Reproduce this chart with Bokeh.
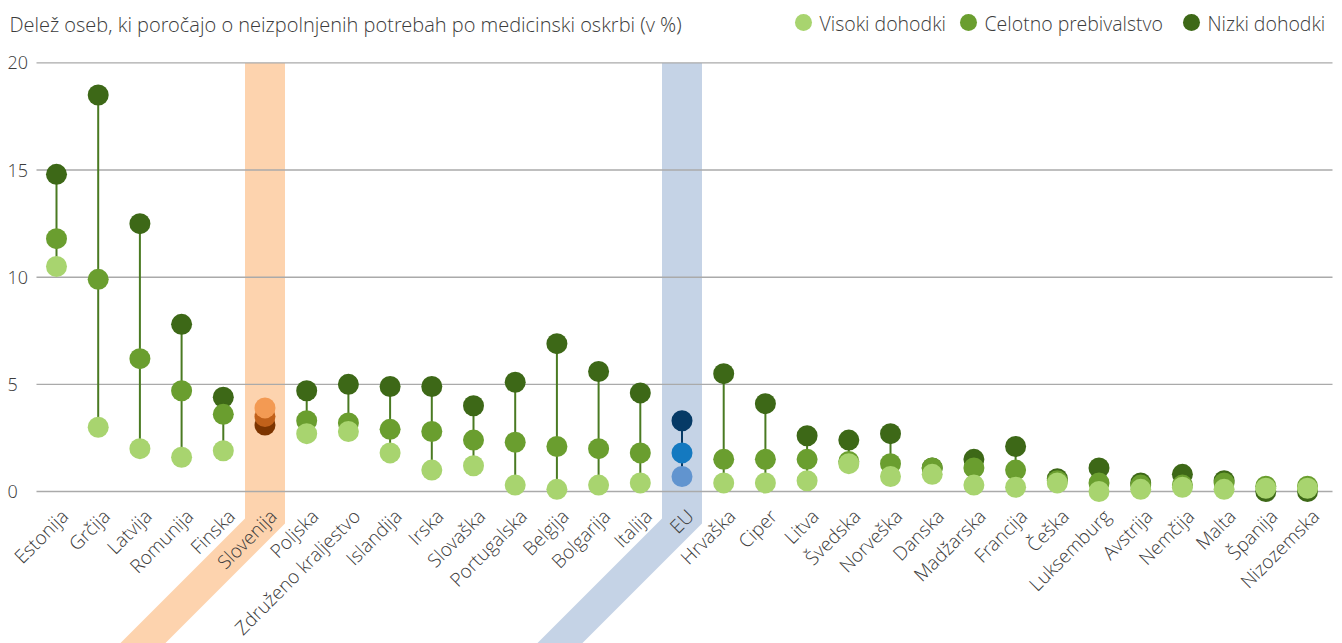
import math
from bokeh.plotting import figure
from bokeh.models import Range1d, ColumnDataSource
from bokeh.core.properties import value
from bokeh.embed import file_html
from bokeh.resources import INLINE

# ---------------- data ----------------
countries = ["Estonija", "Grčija", "Latvija", "Romunija", "Finska", "Slovenija", "Poljska",
             "Združeno kraljestvo", "Islandija", "Irska", "Slovaška", "Portugalska", "Belgija",
             "Bolgarija", "Italija", "EU", "Hrvaška", "Ciper", "Litva", "Švedska", "Norveška",
             "Danska", "Madžarska", "Francija", "Češka", "Luksemburg", "Avstrija", "Nemčija",
             "Malta", "Španija", "Nizozemska"]
nizki = [14.8, 18.5, 12.5, 7.8, 4.4, 3.1, 4.7, 5.0, 4.9, 4.9, 4.0, 5.1, 6.9, 5.6, 4.6,
         3.3, 5.5, 4.1, 2.6, 2.4, 2.7, 1.1, 1.5, 2.1, 0.6, 1.1, 0.4, 0.8, 0.5, 0.0, 0.0]
celotno = [11.8, 9.9, 6.2, 4.7, 3.6, 3.5, 3.3, 3.2, 2.9, 2.8, 2.4, 2.3, 2.1, 2.0, 1.8,
           1.8, 1.5, 1.5, 1.5, 1.4, 1.3, 1.1, 1.1, 1.0, 0.5, 0.4, 0.3, 0.3, 0.4, 0.25, 0.25]
visoki = [10.5, 3.0, 2.0, 1.6, 1.9, 3.9, 2.7, 2.8, 1.8, 1.0, 1.2, 0.3, 0.1, 0.3, 0.4,
          0.7, 0.4, 0.4, 0.5, 1.3, 0.7, 0.8, 0.3, 0.2, 0.4, 0.0, 0.1, 0.2, 0.1, 0.15, 0.15]
y_ticks = [0, 5, 10, 15, 20]
y_tick_labels = ["0", "5", "10", "15", "20"]
series_names = ["Visoki dohodki", "Celotno prebivalstvo", "Nizki dohodki"]
title_text = "Delež oseb, ki poročajo o neizpolnjenih potrebah po medicinski oskrbi (v %)"
highlight_si = "Slovenija"
highlight_eu = "EU"

# ---------------- styles / layout ----------------
W, H = 1342, 643
XS = 41.7      # px per category
YS = 21.43     # px per percentage point
X0 = 56        # canvas x of first category
Y0 = 491       # canvas y of value 0

x_start = -X0 / XS
x_end = x_start + W / XS
y_end = Y0 / YS
y_start = y_end - H / YS


def px(cx):
    return (cx - X0) / XS


def py(cy):
    return (Y0 - cy) / YS


FONT = value("Open Sans Light")
TXT = "#3c3c3c"
C_LIGHT, C_MID, C_DARK = "#a8d46f", "#6a9e2f", "#3d6817"
EU_LIGHT, EU_MID, EU_DARK = "#6194cf", "#1479c0", "#063a66"
SI_LIGHT, SI_MID, SI_DARK = "#f39a53", "#c1611a", "#7d3500"
STEM = "#4a7a22"
BAND_SI = "#fdd3ae"
BAND_EU = "#c5d3e6"

p = figure(width=W, height=H, x_range=Range1d(x_start, x_end), y_range=Range1d(y_start, y_end),
           output_backend="svg", toolbar_location=None, min_border=0,
           x_axis_location=None, y_axis_location=None, outline_line_color=None)
p.grid.visible = False
p.background_fill_color = "white"
p.border_fill_color = "white"

idx = list(range(len(countries)))

# ---------------- highlight bands ----------------
hw = 20 / XS


def band(i, color):
    top = 20
    yl = py(518)
    yr = py(523)
    bottom = 680
    dl = (bottom - 518) / XS
    dr = (bottom - 523) / XS
    xs = [i - hw, i + hw, i + hw, i + hw - dr, i - hw - dl, i - hw]
    ys = [top, top, yr, py(bottom), py(bottom), yl]
    p.patch(xs, ys, fill_color=color, line_color=None)


band(countries.index(highlight_si), BAND_SI)
band(countries.index(highlight_eu), BAND_EU)

# ---------------- gridlines ----------------
p.segment(x0=[px(36)] * len(y_ticks), x1=[px(1332)] * len(y_ticks), y0=y_ticks, y1=y_ticks,
          line_color="#aaaaaa", line_width=1.4)
p.text(x=[px(7)] * len(y_ticks), y=y_ticks, text=y_tick_labels, text_align="left",
       text_baseline="middle", text_font=FONT, text_font_size=value("18px"), text_color=TXT)

# ---------------- stems ----------------
def pick(c, normal, si, eu):
    if c == highlight_si:
        return si
    if c == highlight_eu:
        return eu
    return normal


lo = [min(a, b, c) for a, b, c in zip(nizki, celotno, visoki)]
hi = [max(a, b, c) for a, b, c in zip(nizki, celotno, visoki)]
stem_src = ColumnDataSource(dict(x=idx, lo=lo, hi=hi,
                                 color=[pick(c, STEM, SI_MID, EU_DARK) for c in countries]))
p.segment(x0="x", x1="x", y0="lo", y1="hi", line_color="color", line_width=2, source=stem_src)

# ---------------- points ----------------
for vals, cn, cs, ce in [(nizki, C_DARK, SI_DARK, EU_DARK),
                         (celotno, C_MID, SI_MID, EU_MID),
                         (visoki, C_LIGHT, SI_LIGHT, EU_LIGHT)]:
    src = ColumnDataSource(dict(x=idx, y=vals, color=[pick(c, cn, cs, ce) for c in countries]))
    p.scatter(x="x", y="y", size=21, fill_color="color", line_color=None, source=src)

# ---------------- category labels ----------------
p.text(x=[i - 1 / XS for i in idx], y=[py(503)] * len(idx), text=countries,
       angle=math.pi / 4, text_align="right", text_baseline="top",
       text_font=FONT, text_font_size=value("19px"), text_color=TXT)

# ---------------- title ----------------
p.text(x=[px(9)], y=[py(24)], text=[title_text], text_align="left", text_baseline="middle",
       text_font=FONT, text_font_size=value("20px"), text_color=TXT)

# ---------------- legend ----------------
leg_x = [803, 968, 1191]
leg_colors = [C_LIGHT, C_MID, C_DARK]
p.scatter(x=[px(v) for v in leg_x], y=[py(22)] * 3, size=17, fill_color=leg_colors, line_color=None)
p.text(x=[px(v + 16) for v in leg_x], y=[py(23)] * 3, text=series_names, text_align="left",
       text_baseline="middle", text_font=FONT, text_font_size=value("19.5px"), text_color=TXT)

open("out.html", "w").write(file_html(p, INLINE))
